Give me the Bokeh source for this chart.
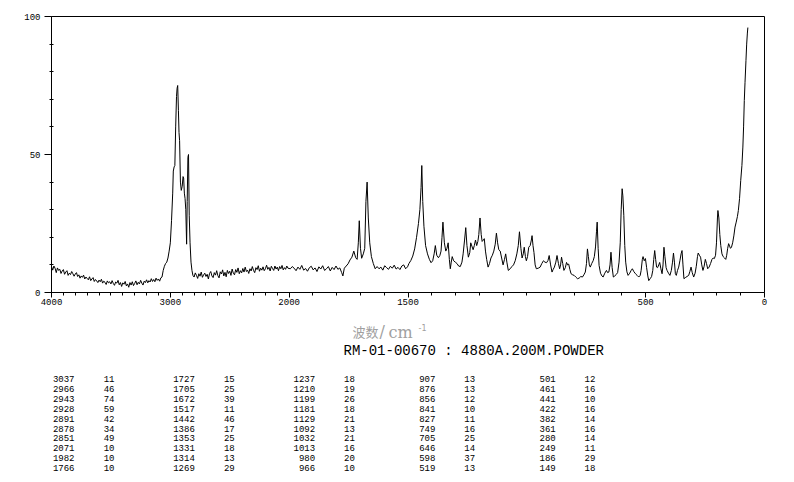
from bokeh.plotting import figure
from bokeh.models import Range1d, FixedTicker
from bokeh.layouts import column
from bokeh.embed import file_html
from bokeh.resources import INLINE
from bokeh.core.properties import value

# ---------------- spectrum (wavenumber cm-1, intensity) ----------------
wavenumber = [
    4000, 3990, 3980, 3970, 3960, 3950, 3940, 3930, 3920, 3910,
    3900, 3890, 3880, 3870, 3860, 3850, 3840, 3830, 3820, 3810,
    3800, 3790, 3780, 3770, 3760, 3750, 3740, 3730, 3720, 3710,
    3700, 3690, 3680, 3670, 3660, 3650, 3640, 3630, 3620, 3610,
    3600, 3590, 3580, 3570, 3560, 3550, 3540, 3530, 3520, 3510,
    3500, 3490, 3480, 3470, 3460, 3450, 3440, 3430, 3420, 3410,
    3400, 3390, 3380, 3370, 3360, 3350, 3340, 3330, 3320, 3310,
    3300, 3290, 3280, 3270, 3260, 3250, 3240, 3230, 3220, 3210,
    3200, 3190, 3180, 3170, 3160, 3150, 3140, 3130, 3120, 3110,
    3100, 3090, 3080, 3070,
    3060, 3050, 3040, 3030, 3020, 3010, 3000, 2990, 2980, 2975, 2968, 2962, 2955, 2948, 2943, 2938,
    2932, 2927, 2922, 2915, 2908, 2900, 2893, 2888, 2882, 2876, 2870, 2863, 2858, 2852, 2847, 2841,
    2834, 2826, 2818, 2810,
    2800, 2790, 2780, 2770, 2760, 2750, 2740, 2730, 2720, 2710,
    2700, 2690, 2680, 2670, 2660, 2650, 2640, 2630, 2620, 2610,
    2600, 2590, 2580, 2570, 2560, 2550, 2540, 2530, 2520, 2510,
    2500, 2490, 2480, 2470, 2460, 2450, 2440, 2430, 2420, 2410,
    2400, 2390, 2380, 2370, 2360, 2350, 2340, 2330, 2320, 2310,
    2300, 2290, 2280, 2270, 2260, 2250, 2240, 2230, 2220, 2210,
    2200, 2190, 2180, 2170, 2160, 2150, 2140, 2130, 2120, 2110,
    2100, 2090, 2080, 2070, 2060, 2050, 2040, 2030, 2020, 2010,
    1995, 1987, 1979, 1971, 1963, 1955, 1947, 1939, 1931, 1923, 1915, 1907, 1899, 1891, 1883, 1875,
    1867, 1859, 1851, 1843, 1835, 1827, 1819, 1811, 1803, 1795, 1787, 1779, 1774, 1768, 1760, 1752,
    1744, 1736, 1728, 1720, 1714, 1709, 1705, 1700, 1695, 1688, 1682, 1677, 1672, 1667, 1661, 1654,
    1646, 1638, 1630, 1622, 1614, 1606, 1598, 1590, 1582, 1574, 1566, 1558, 1550, 1542, 1534, 1526,
    1518, 1510, 1502, 1496, 1488, 1480, 1472, 1464, 1456, 1450, 1445, 1442, 1438, 1433, 1426, 1418,
    1410, 1403, 1396, 1390, 1385, 1379, 1372, 1366, 1361, 1357, 1353, 1347, 1341, 1336, 1331, 1326,
    1322, 1318, 1314, 1308, 1301, 1294, 1287, 1280, 1273, 1268, 1262, 1257, 1252, 1246, 1240, 1236,
    1230, 1226, 1221, 1216, 1211, 1206, 1202, 1197, 1192, 1188, 1183, 1179, 1174, 1169, 1163, 1157,
    1151, 1145, 1139, 1133, 1128, 1123, 1118, 1112, 1106, 1100, 1094, 1089, 1084, 1078, 1070, 1063,
    1056, 1049, 1042, 1036, 1031, 1025, 1020, 1015, 1011, 1006, 1002, 997, 992, 986, 981, 978,
    974, 970, 965, 960, 952, 944, 937, 930, 924, 917, 911, 906, 900, 894, 889, 884,
    878, 873, 867, 862, 858, 854, 849, 844, 838, 833, 828, 824, 819, 814, 807, 801,
    794, 787, 780, 773, 766, 760, 754, 749, 745, 741, 737, 733, 727, 721, 716, 711,
    707, 704, 700, 696, 690, 684, 679, 672, 665, 660, 655, 650, 646, 641, 636, 630,
    624, 618, 612, 607, 603, 599, 596, 592, 588, 584, 579, 574, 567, 561, 556, 550,
    543, 536, 529, 523, 519, 514, 511, 506, 501, 496, 491, 487, 481, 475, 470, 466,
    462, 458, 454, 450, 445, 441, 436, 431, 427, 423, 419, 414, 410, 404, 398, 392,
    387, 383, 379, 375, 371, 366, 361, 356, 351, 347, 343, 339, 333, 326, 319, 314,
    309, 304, 298, 292, 287, 282, 279, 274, 269, 264, 259, 254, 249, 244, 239, 233,
    227, 221, 216, 211, 206, 202, 198, 196, 192, 188, 184, 179, 174, 168, 163, 159,
    155, 151, 147, 143, 139, 134, 129, 124, 119, 114, 110, 105, 100, 95, 91, 88,
    85, 82, 78, 75, 72, 70,
]
intensity = [
    9.4, 8.1, 9.6, 8.8, 7.2, 8.9, 8.0, 8.4, 6.9, 7.8,
    8.3, 6.6, 7.4, 7.9, 6.2, 7.0, 6.5, 7.6, 6.8, 5.9,
    6.7, 7.2, 5.8, 6.4, 5.2, 6.0, 5.5, 6.3, 4.9, 5.6,
    5.1, 4.6, 5.7, 4.3, 4.9, 5.4, 4.0, 4.7, 4.2, 3.6,
    4.5, 3.9, 4.8, 3.4, 4.1, 3.7, 2.9, 4.2, 3.5, 3.9,
    3.1, 4.3, 3.3, 2.6, 3.8, 3.4, 4.4, 2.8, 3.6, 2.2,
    3.5, 3.0, 4.0, 2.4, 3.1, 1.9, 3.6, 2.7, 3.9, 2.5,
    3.3, 4.2, 2.8, 3.7, 3.1, 4.4, 3.4, 2.7, 4.1, 3.6,
    4.6, 3.5, 4.3, 3.8, 5.0, 4.0, 4.7, 3.9, 5.2, 4.4,
    4.9, 4.1, 5.3, 5.6,
    8.0, 9.5, 10.5, 11.0, 12.5, 15.0, 18.0, 26.0, 36.0, 44.0, 45.5, 46.0, 60.0, 71.0, 74.0, 75.0,
    66.0, 58.0, 55.0, 40.0, 37.0, 38.5, 42.0, 41.5, 36.0, 34.0, 30.0, 17.5, 33.0, 49.0, 50.0, 28.0,
    18.0, 11.0, 8.0, 6.2,
    5.6, 7.1, 6.2, 5.1, 6.8, 5.9, 7.4, 5.5, 6.4, 7.0,
    5.8, 6.6, 4.9, 6.9, 7.6, 6.0, 5.4, 7.2, 6.3, 7.9,
    6.1, 5.3, 7.5, 6.7, 8.2, 6.0, 7.3, 5.7, 8.0, 6.9,
    7.7, 6.2, 8.5, 7.0, 6.4, 8.3, 7.3, 8.9, 6.8, 7.9,
    7.1, 8.7, 7.4, 9.2, 7.6, 8.1, 6.9, 8.6, 7.8, 9.4,
    8.0, 7.2, 9.0, 8.3, 9.7, 7.7, 8.8, 8.1, 9.3, 7.9,
    8.6, 9.9, 8.4, 9.1, 7.8, 9.5, 8.7, 8.0, 9.6, 8.5,
    9.2, 7.9, 9.4, 8.6, 9.8, 8.2, 9.0, 8.4, 9.6, 8.8,
    8.6, 9.4, 8.8, 7.9, 9.2, 8.4, 9.8, 8.1, 8.7, 7.7, 9.0, 9.5, 8.2, 8.9, 7.6, 9.3,
    8.5, 9.7, 8.0, 8.6, 9.4, 7.8, 9.1, 8.3, 9.6, 8.4, 8.9, 7.2, 6.0, 8.8, 9.6, 10.4,
    11.8, 12.8, 15.0, 12.6, 12.0, 18.0, 26.0, 16.0, 12.4, 14.0, 16.0, 33.0, 40.0, 27.0, 18.0, 13.0,
    10.5, 8.6, 9.4, 8.6, 9.2, 8.1, 9.7, 9.0, 8.4, 9.5, 8.8, 9.9, 8.5, 9.1, 8.3, 9.6,
    10.0, 8.6, 9.3, 10.5, 11.6, 13.2, 15.8, 20.0, 25.0, 30.0, 38.0, 46.0, 33.0, 24.0, 17.0, 14.0,
    12.0, 10.8, 11.5, 14.0, 17.0, 13.5, 12.6, 13.4, 15.0, 20.0, 25.5, 18.0, 15.0, 16.0, 18.0, 12.0,
    8.6, 11.0, 13.0, 11.5, 11.0, 10.5, 9.6, 9.4, 11.0, 14.0, 19.0, 23.5, 17.0, 12.8, 14.5, 18.0,
    16.5, 15.5, 17.0, 19.0, 17.0, 18.5, 21.0, 27.0, 21.0, 18.5, 19.0, 19.5, 15.0, 12.0, 9.2, 10.5,
    12.5, 13.5, 15.0, 17.5, 21.5, 18.0, 15.5, 15.0, 12.5, 10.0, 12.0, 14.0, 11.0, 8.0, 8.6, 9.4,
    10.0, 11.5, 14.0, 17.0, 22.0, 16.0, 12.5, 14.0, 16.4, 13.0, 11.5, 13.0, 16.4, 17.0, 19.0, 20.6,
    17.0, 14.5, 10.0, 8.6, 8.8, 9.2, 10.5, 11.5, 11.0, 10.8, 11.6, 13.4, 10.0, 7.4, 8.4, 9.2,
    11.0, 13.4, 10.5, 8.6, 10.0, 12.8, 10.5, 8.0, 9.0, 10.9, 10.0, 10.3, 8.4, 6.8, 6.4, 6.2,
    5.6, 5.0, 5.2, 5.8, 5.6, 6.4, 7.4, 10.5, 15.8, 13.0, 10.0, 9.2, 10.5, 11.5, 13.0, 16.5,
    22.0, 25.5, 16.0, 9.8, 7.0, 6.0, 5.6, 7.0, 8.0, 7.2, 7.4, 10.0, 14.6, 9.0, 5.6, 6.0,
    6.5, 7.2, 11.0, 18.0, 30.0, 37.6, 35.0, 28.0, 17.0, 11.0, 7.5, 6.2, 7.0, 8.0, 8.6, 7.6,
    6.8, 6.2, 5.6, 6.2, 8.0, 12.0, 13.0, 11.5, 12.3, 9.0, 6.0, 4.3, 5.0, 5.8, 8.0, 12.0,
    15.2, 12.0, 9.2, 9.0, 10.0, 10.9, 8.6, 6.8, 10.0, 16.4, 13.0, 9.0, 8.0, 7.0, 6.2, 8.0,
    11.0, 14.3, 11.0, 6.8, 6.2, 8.0, 9.2, 11.5, 14.0, 15.2, 10.0, 5.0, 5.4, 5.8, 6.2, 7.6,
    9.2, 7.2, 5.6, 7.0, 9.5, 13.0, 14.3, 13.5, 12.8, 10.0, 8.0, 9.5, 12.0, 10.5, 8.6, 9.2,
    10.5, 12.0, 12.5, 12.3, 13.5, 18.0, 27.0, 29.7, 27.0, 21.0, 17.0, 14.0, 13.0, 12.5, 12.0, 13.5,
    16.0, 17.7, 16.8, 16.0, 16.4, 18.0, 20.5, 23.7, 25.5, 27.5, 29.7, 34.0, 40.6, 46.0, 52.7, 60.0,
    69.6, 76.0, 84.0, 90.0, 94.0, 96.0,
]

# ---------------- peak table ----------------
peak_wavenumbers = [
    3037, 2966, 2943, 2928, 2891, 2878, 2851, 2071, 1982, 1766,
    1727, 1705, 1672, 1517, 1442, 1386, 1353, 1331, 1314, 1269,
    1237, 1210, 1199, 1181, 1129, 1092, 1032, 1013, 980, 966,
    907, 876, 856, 841, 827, 749, 705, 646, 598, 519,
    501, 461, 441, 422, 382, 361, 280, 249, 186, 149,
]
peak_intensities = [
    11, 46, 74, 59, 42, 34, 49, 10, 10, 10,
    15, 25, 39, 11, 46, 17, 25, 18, 13, 29,
    18, 19, 26, 18, 21, 13, 21, 16, 20, 10,
    13, 13, 12, 10, 11, 16, 25, 14, 37, 13,
    12, 16, 10, 16, 14, 16, 14, 11, 29, 18,
]

x_tick_labels = [4000, 3000, 2000, 1500, 500, 0]
y_tick_labels = [0, 50, 100]
title_text = "RM-01-00670 : 4880A.200M.POWDER"


def xt(w):
    # the scale above 2000 cm-1 is compressed by a factor of two
    return w if w <= 2000 else 2000 + (w - 2000) / 2


MONO = "Liberation Mono"
W = 792
LEFT, RIGHT = 51, W - 764
TOP_H = 316
BOT_H = 164

p = figure(width=W, height=TOP_H, output_backend="svg", toolbar_location=None,
           x_range=Range1d(xt(4000), 0), y_range=Range1d(0, 100),
           min_border_left=LEFT, min_border_right=RIGHT, min_border_top=16, min_border_bottom=24)
p.grid.visible = False
p.outline_line_color = "black"
p.background_fill_color = "white"
p.border_fill_color = "white"

p.line([xt(w) for w in wavenumber], intensity, line_color="black", line_width=1)

major = [int(xt(w)) for w in x_tick_labels]
minor = [int(xt(w)) for w in range(0, 4001, 100) if w not in x_tick_labels]
p.xaxis.ticker = FixedTicker(ticks=major, minor_ticks=minor)
p.xaxis.major_label_overrides = {int(xt(w)): str(w) for w in x_tick_labels}
p.yaxis.ticker = FixedTicker(ticks=y_tick_labels, minor_ticks=[v for v in range(10, 100, 10) if v != 50])

for ax in (p.xaxis[0], p.yaxis[0]):
    ax.axis_line_color = "black"
    ax.major_tick_line_color = "black"
    ax.minor_tick_line_color = "black"
    ax.major_label_text_font = MONO
    ax.major_label_text_font_size = "9px"
    ax.major_label_text_color = "black"
    ax.major_tick_in = 0

p.xaxis.major_tick_out = 5
p.xaxis.minor_tick_out = 3
p.xaxis.minor_tick_in = 0
p.xaxis.major_label_standoff = 1
p.yaxis.major_tick_out = 7
p.yaxis.minor_tick_out = 2
p.yaxis.minor_tick_in = 2
p.yaxis.major_label_standoff = 4

# ---------------- lower text panel (data coordinates = page pixels) ----------------
p2 = figure(width=W, height=BOT_H, output_backend="svg", toolbar_location=None,
            x_range=Range1d(LEFT, 764), y_range=Range1d(TOP_H + BOT_H, TOP_H),
            x_axis_type=None, y_axis_type=None,
            min_border_left=LEFT, min_border_right=RIGHT, min_border_top=0, min_border_bottom=0)
p2.grid.visible = False
p2.outline_line_color = None
p2.border_fill_color = "white"

# axis title
p2.text([352], [330.5], text=["波数"], text_font=value("Noto Sans CJK SC"), text_font_size="13px",
        text_color="#a0a0a0", text_baseline="middle", text_align="left")
p2.text([379], [331], text=["/"], text_font=value("DejaVu Serif"), text_font_size="16px",
        text_color="#a0a0a0", text_baseline="middle", text_align="left")
p2.text([388], [332], text=["cm"], text_font=value("DejaVu Serif"), text_font_size="16px",
        text_color="#a0a0a0", text_baseline="middle", text_align="left")
p2.text([418], [326.5], text=["-1"], text_font=value("DejaVu Sans"), text_font_size="8px",
        text_color="#a0a0a0", text_baseline="middle", text_align="left")

# sample header
p2.text([343], [350.5], text=[title_text], text_font=value(MONO), text_font_size="14px",
        text_color="black", text_baseline="middle", text_align="left")

# peak table
tx, ty, tt, ix, iy, it = [], [], [], [], [], []
for i, (w, v) in enumerate(zip(peak_wavenumbers, peak_intensities)):
    col, row = divmod(i, 10)
    tx.append(74 + 120.3 * col)
    ty.append(378.5 + 9.9 * row)
    tt.append(str(w))
    ix.append(114 + 120.2 * col)
    iy.append(378.5 + 9.9 * row)
    it.append(str(v))
p2.text(tx, ty, text=tt, text_font=value(MONO), text_font_size="9px", text_color="black",
        text_baseline="middle", text_align="right")
p2.text(ix, iy, text=it, text_font=value(MONO), text_font_size="9px", text_color="black",
        text_baseline="middle", text_align="right")

layout = column(p, p2, spacing=0)
open("out.html", "w").write(file_html(layout, INLINE))
